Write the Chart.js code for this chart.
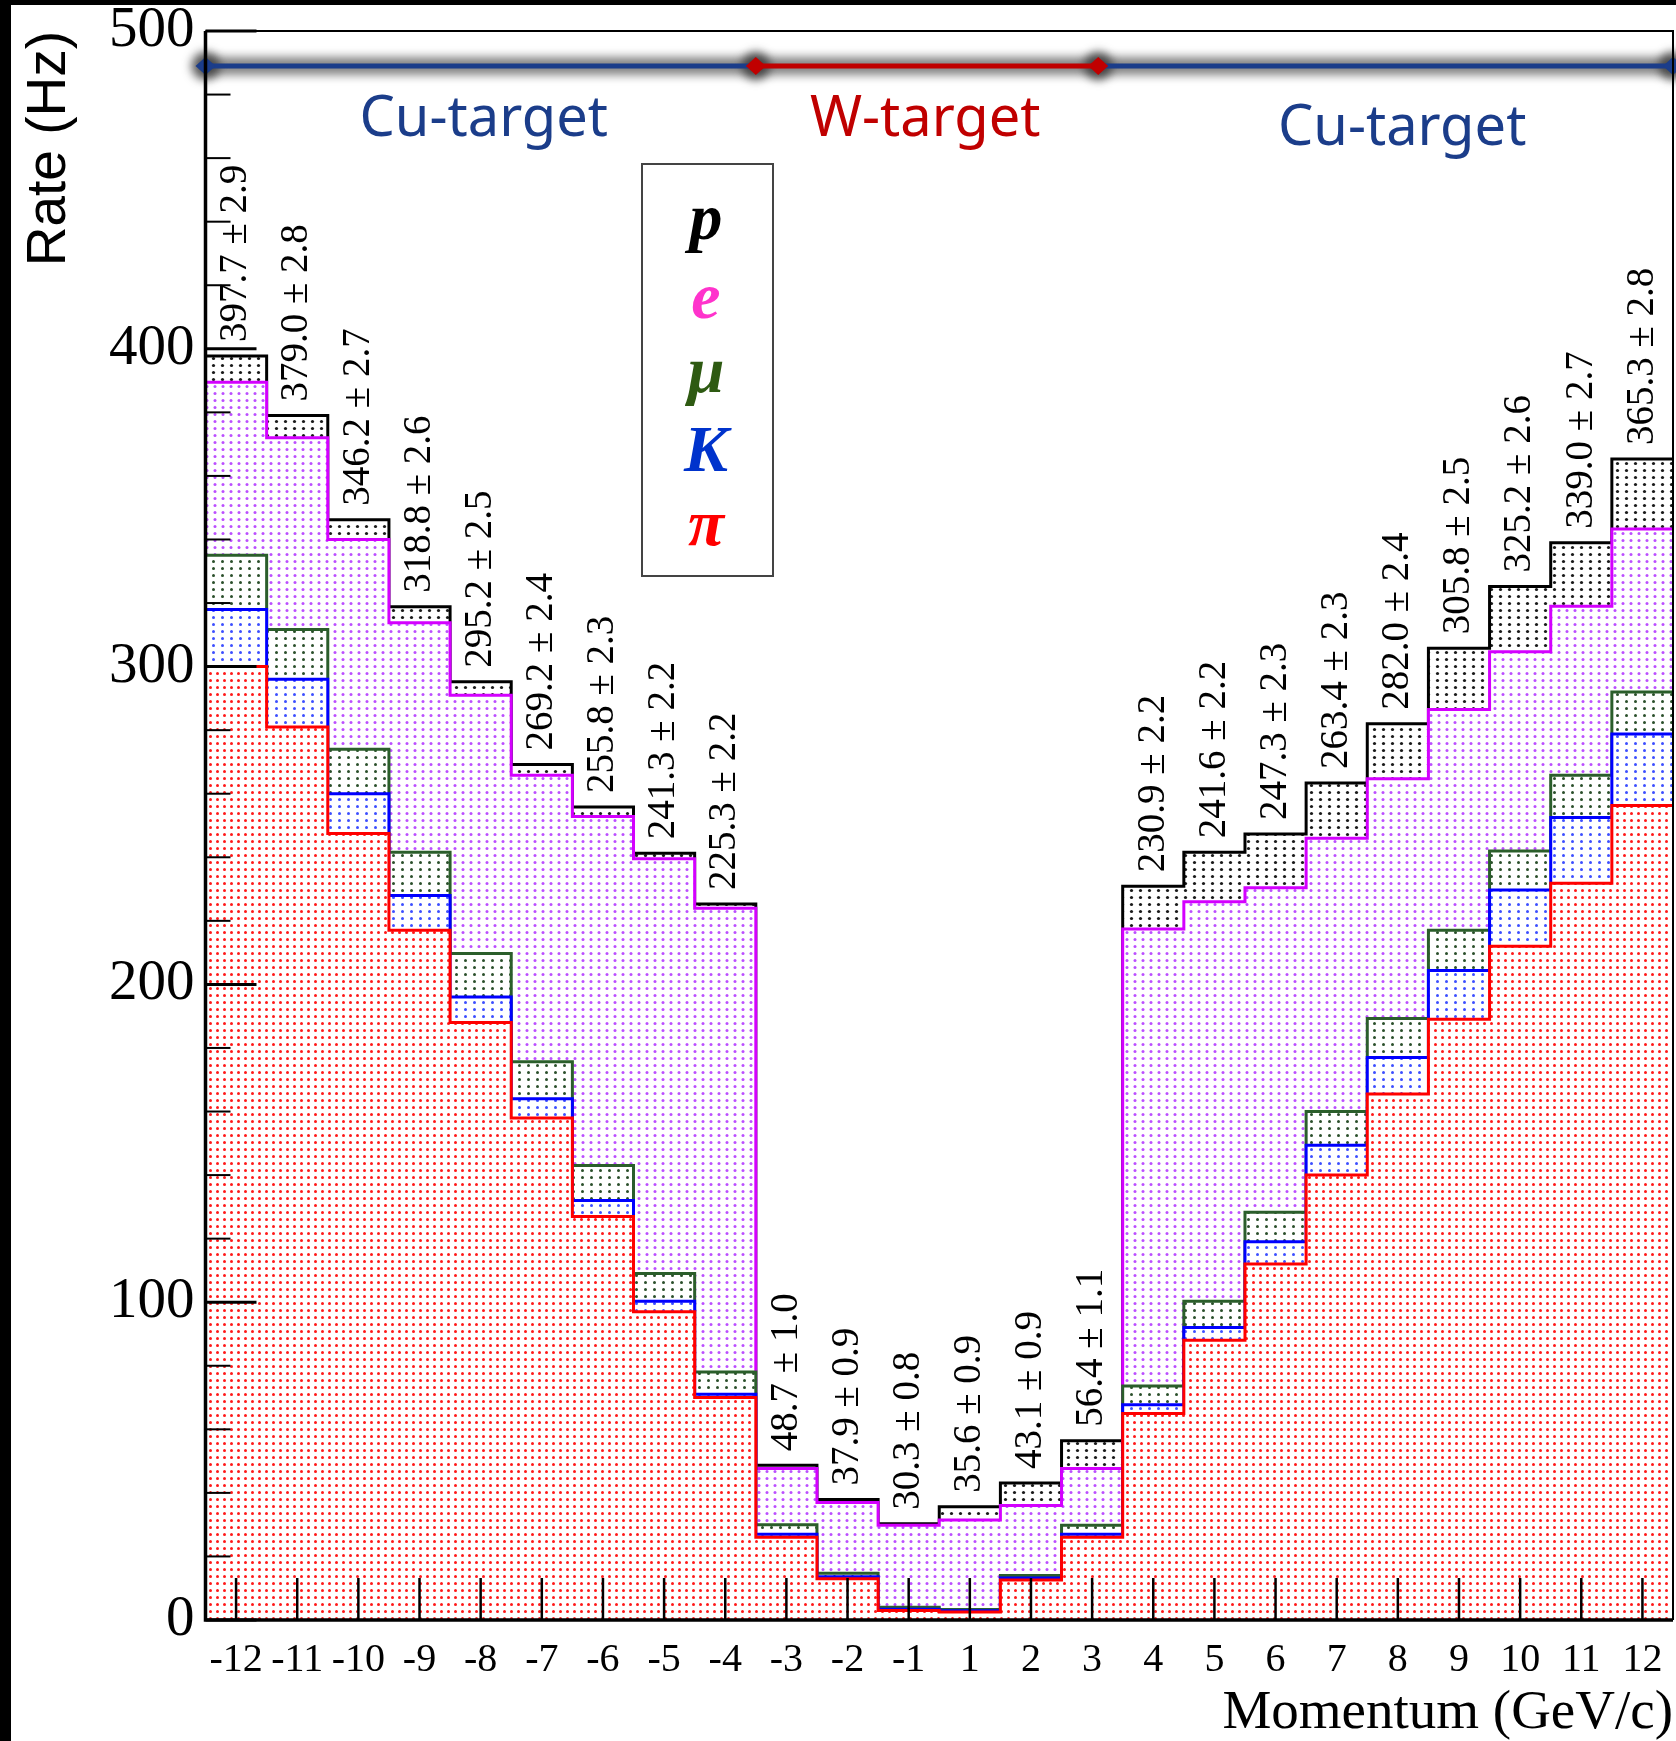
<!DOCTYPE html>
<html>
<head>
<meta charset="utf-8">
<script src="https://cdn.jsdelivr.net/npm/chart.js@4.4.1/dist/chart.umd.min.js"></script>
<style>
  html, body { margin: 0; padding: 0; background: #000; }
  #frame { position: absolute; left: 11px; top: 5px; width: 1665px; height: 1736px; background: #fff; }
  canvas { display: block; }
</style>
</head>
<body>
<div id="frame"><canvas id="rateChart" width="1665" height="1736"></canvas></div>
<script>
// momentum bins (GeV/c), no bin at 0
const momentumBins = ['-12', '-11', '-10', '-9', '-8', '-7', '-6', '-5', '-4', '-3', '-2', '-1',
                      '1', '2', '3', '4', '5', '6', '7', '8', '9', '10', '11', '12'];

// rate per species (Hz), stacked pi -> K -> mu -> e -> p
const pionRate     = [300, 281, 247.5, 217, 188, 158, 127, 97, 70, 26, 13, 3,
                      2.5, 12.6, 26, 65, 88, 112, 140, 165.5, 189, 212, 231.8, 256.3];
const kaonRate     = [18, 15, 12.5, 11, 8, 6, 5, 3.3, 1, 1, 0.6, 0.4,
                      0.4, 0.6, 1, 2.7, 4, 7, 9.4, 11.5, 15.4, 17.7, 20.7, 22.5];
const muonRate     = [17, 15.7, 14, 13.6, 13.7, 11.7, 11, 8.7, 7, 3, 1.1, 0.6,
                      0.4, 0.8, 2.8, 5.9, 8.3, 9.3, 10.6, 12.3, 12.6, 12.3, 13.3, 13.2];
const electronRate = [54.5, 60.3, 66, 72.2, 81.3, 90.1, 109.8, 130.5, 146, 17.7, 22.3, 25.8,
                      28.2, 22, 17.9, 143.8, 125.7, 102.1, 86, 75.4, 69.5, 62.7, 53.2, 51.3];
const protonRate   = [8.2, 7, 6.2, 5, 4.2, 3.4, 3, 1.8, 1.3, 1, 0.9, 0.5,
                      4.1, 7.1, 8.7, 13.5, 15.6, 16.9, 17.4, 17.3, 19.3, 20.5, 20, 22];

// printed totals and errors
const totalRate  = [397.7, 379.0, 346.2, 318.8, 295.2, 269.2, 255.8, 241.3, 225.3, 48.7, 37.9, 30.3,
                    35.6, 43.1, 56.4, 230.9, 241.6, 247.3, 263.4, 282.0, 305.8, 325.2, 339.0, 365.3];
const totalError = [2.9, 2.8, 2.7, 2.6, 2.5, 2.4, 2.3, 2.2, 2.2, 1.0, 0.9, 0.8,
                    0.9, 0.9, 1.1, 2.2, 2.2, 2.3, 2.3, 2.4, 2.5, 2.6, 2.7, 2.8];

// target regions along the top, in bin-edge units
const targetEdges  = [0, 9, 14.6, 24];
const targetNames  = ['Cu-target', 'W-target', 'Cu-target'];
const targetColors = ['#1b3d8a', '#c00000', '#1b3d8a'];
const targetLabelX = [4.55, 11.77, 19.57];
const targetLabelY = [467, 467, 464];

const legendSymbols = ['p', 'e', 'μ', 'K', 'π'];
const legendColors  = ['#000000', '#ff33cc', '#2e5a12', '#0033cc', '#ff0000'];

function dots(color, w, h, r) {
  const c = document.createElement('canvas');
  c.width = w; c.height = h;
  const g = c.getContext('2d');
  g.fillStyle = '#fff';
  g.fillRect(0, 0, w, h);
  g.fillStyle = color;
  g.beginPath();
  g.arc(w / 2, h / 2, r, 0, Math.PI * 2);
  g.fill();
  return g.createPattern(c, 'repeat');
}

function series(values) {
  const pts = values.map((v, i) => ({x: i, y: v}));
  pts.push({x: values.length, y: values[values.length - 1]});
  return pts;
}

const species = [
  {label: 'pi', values: pionRate, line: '#ff0000', fill: dots('rgba(255,0,0,0.9)', 7, 7, 1.5)},
  {label: 'K', values: kaonRate, line: '#0000ff', fill: dots('rgba(40,60,255,0.9)', 9, 7, 1.5)},
  {label: 'mu', values: muonRate, line: '#2b5e2b', fill: dots('rgba(20,60,20,0.9)', 9, 7, 1.5)},
  {label: 'e', values: electronRate, line: '#d400ff', fill: dots('rgba(180,60,255,0.9)', 8, 7, 1.5)},
  {label: 'p', values: protonRate, line: '#000000', fill: dots('rgba(0,0,0,0.9)', 9, 7, 1.6)}
];

const decor = {
  id: 'decor',
  afterDatasetsDraw(chart) {
    const {ctx, chartArea: a, scales: {x, y}} = chart;
    ctx.save();

    // target banner
    const by = y.getPixelForValue(489);
    ctx.save();
    ctx.filter = 'blur(5px)';
    ctx.strokeStyle = 'rgba(80,80,80,0.7)';
    ctx.lineWidth = 18;
    ctx.beginPath();
    ctx.moveTo(x.getPixelForValue(targetEdges[0]), by);
    ctx.lineTo(x.getPixelForValue(targetEdges[targetEdges.length - 1]), by);
    ctx.stroke();
    ctx.fillStyle = 'rgba(50,50,50,0.8)';
    targetEdges.forEach(e => {
      ctx.beginPath();
      ctx.arc(x.getPixelForValue(e), by, 14, 0, Math.PI * 2);
      ctx.fill();
    });
    ctx.restore();
    ctx.lineWidth = 5;
    targetNames.forEach((name, i) => {
      ctx.strokeStyle = targetColors[i];
      ctx.beginPath();
      ctx.moveTo(x.getPixelForValue(targetEdges[i]), by);
      ctx.lineTo(x.getPixelForValue(targetEdges[i + 1]), by);
      ctx.stroke();
    });
    targetEdges.forEach((e, i) => {
      const px = x.getPixelForValue(e);
      ctx.fillStyle = (i === 1 || i === 2) ? targetColors[1] : targetColors[0];
      ctx.beginPath();
      ctx.moveTo(px - 10, by); ctx.lineTo(px, by - 9);
      ctx.lineTo(px + 10, by); ctx.lineTo(px, by + 9);
      ctx.closePath();
      ctx.fill();
    });
    ctx.font = '56px "Noto Sans"';
    ctx.textAlign = 'center';
    ctx.textBaseline = 'alphabetic';
    targetNames.forEach((name, i) => {
      ctx.fillStyle = targetColors[i];
      ctx.fillText(name, x.getPixelForValue(targetLabelX[i]), y.getPixelForValue(targetLabelY[i]));
    });

    // value labels
    ctx.font = '39px "Liberation Serif"';
    ctx.fillStyle = '#000';
    ctx.textAlign = 'left';
    ctx.textBaseline = 'middle';
    totalRate.forEach((v, i) => {
      ctx.save();
      ctx.translate(x.getPixelForValue(i + 0.5), y.getPixelForValue(v) - 14);
      ctx.rotate(-Math.PI / 2);
      ctx.fillText(v.toFixed(1) + ' \u00b1 ' + totalError[i].toFixed(1), 0, 0);
      ctx.restore();
    });

    // legend box
    ctx.strokeStyle = '#444';
    ctx.lineWidth = 2;
    ctx.strokeRect(631, 159, 131, 412);
    ctx.font = 'italic bold 66px "Liberation Serif"';
    ctx.textAlign = 'center';
    ctx.textBaseline = 'alphabetic';
    const baselines = [234, 313, 387, 466, 540];
    legendSymbols.forEach((s, i) => {
      ctx.fillStyle = legendColors[i];
      ctx.fillText(s, 695, baselines[i]);
    });

    // ticks
    ctx.strokeStyle = '#000';
    for (let v = 0; v <= 500; v += 20) {
      const py = y.getPixelForValue(v);
      const major = v % 100 === 0;
      ctx.lineWidth = major ? 3 : 2;
      ctx.beginPath();
      ctx.moveTo(a.left, py);
      ctx.lineTo(a.left + (major ? 51 : 25), py);
      ctx.stroke();
    }
    ctx.lineWidth = 2.5;
    momentumBins.forEach((_, i) => {
      const px = x.getPixelForValue(i + 0.5);
      ctx.beginPath();
      ctx.moveTo(px, a.bottom);
      ctx.lineTo(px, a.bottom - 42);
      ctx.stroke();
    });

    // frame
    ctx.lineWidth = 2;
    ctx.beginPath();
    ctx.moveTo(a.left, a.top); ctx.lineTo(a.right, a.top); ctx.lineTo(a.right, a.bottom);
    ctx.stroke();
    ctx.lineWidth = 3.5;
    ctx.beginPath();
    ctx.moveTo(a.left, a.top); ctx.lineTo(a.left, a.bottom); ctx.lineTo(a.right, a.bottom);
    ctx.stroke();

    ctx.restore();
  }
};

new Chart(document.getElementById('rateChart'), {
  type: 'line',
  data: {
    datasets: species.map(s => ({
      label: s.label,
      data: series(s.values),
      borderColor: s.line,
      backgroundColor: s.fill,
      borderWidth: 3,
      stepped: true,
      fill: 'origin',
      pointRadius: 0
    }))
  },
  options: {
    responsive: false,
    animation: false,
    layout: {padding: {top: 26, right: 3, left: 0, bottom: 0}},
    plugins: {legend: {display: false}, tooltip: {enabled: false}},
    elements: {line: {tension: 0}},
    scales: {
      x: {
        type: 'linear',
        min: 0,
        max: momentumBins.length,
        grid: {display: false, drawTicks: false},
        border: {display: false},
        afterBuildTicks: s => { s.ticks = momentumBins.map((_, i) => ({value: i + 0.5})); },
        afterFit: s => { s.height = 121; s.paddingLeft = 0; s.paddingRight = 0; },
        ticks: {
          autoSkip: false,
          maxRotation: 0,
          padding: 16,
          color: '#000',
          font: {family: 'Liberation Serif', size: 40},
          callback: v => momentumBins[Math.floor(v)]
        },
        title: {
          display: true,
          text: 'Momentum (GeV/c)',
          align: 'end',
          color: '#000',
          font: {family: 'Liberation Serif', size: 55, lineHeight: 1},
          padding: {bottom: 0, top: 0}
        }
      },
      y: {
        stacked: true,
        min: 0,
        max: 500,
        grid: {display: false, drawTicks: false},
        border: {display: false},
        afterFit: s => { s.width = 194.5; s.paddingTop = 0; s.paddingBottom = 0; },
        ticks: {
          stepSize: 100,
          padding: 11,
          color: '#000',
          font: {family: 'Liberation Serif', size: 57, lineHeight: 0.9}
        },
        title: {
          display: true,
          text: 'Rate (Hz)',
          align: 'end',
          color: '#000',
          font: {family: 'Liberation Sans', size: 55, lineHeight: 1},
          padding: {top: 11, bottom: 0}
        }
      }
    }
  },
  plugins: [decor]
});
</script>
</body>
</html>
